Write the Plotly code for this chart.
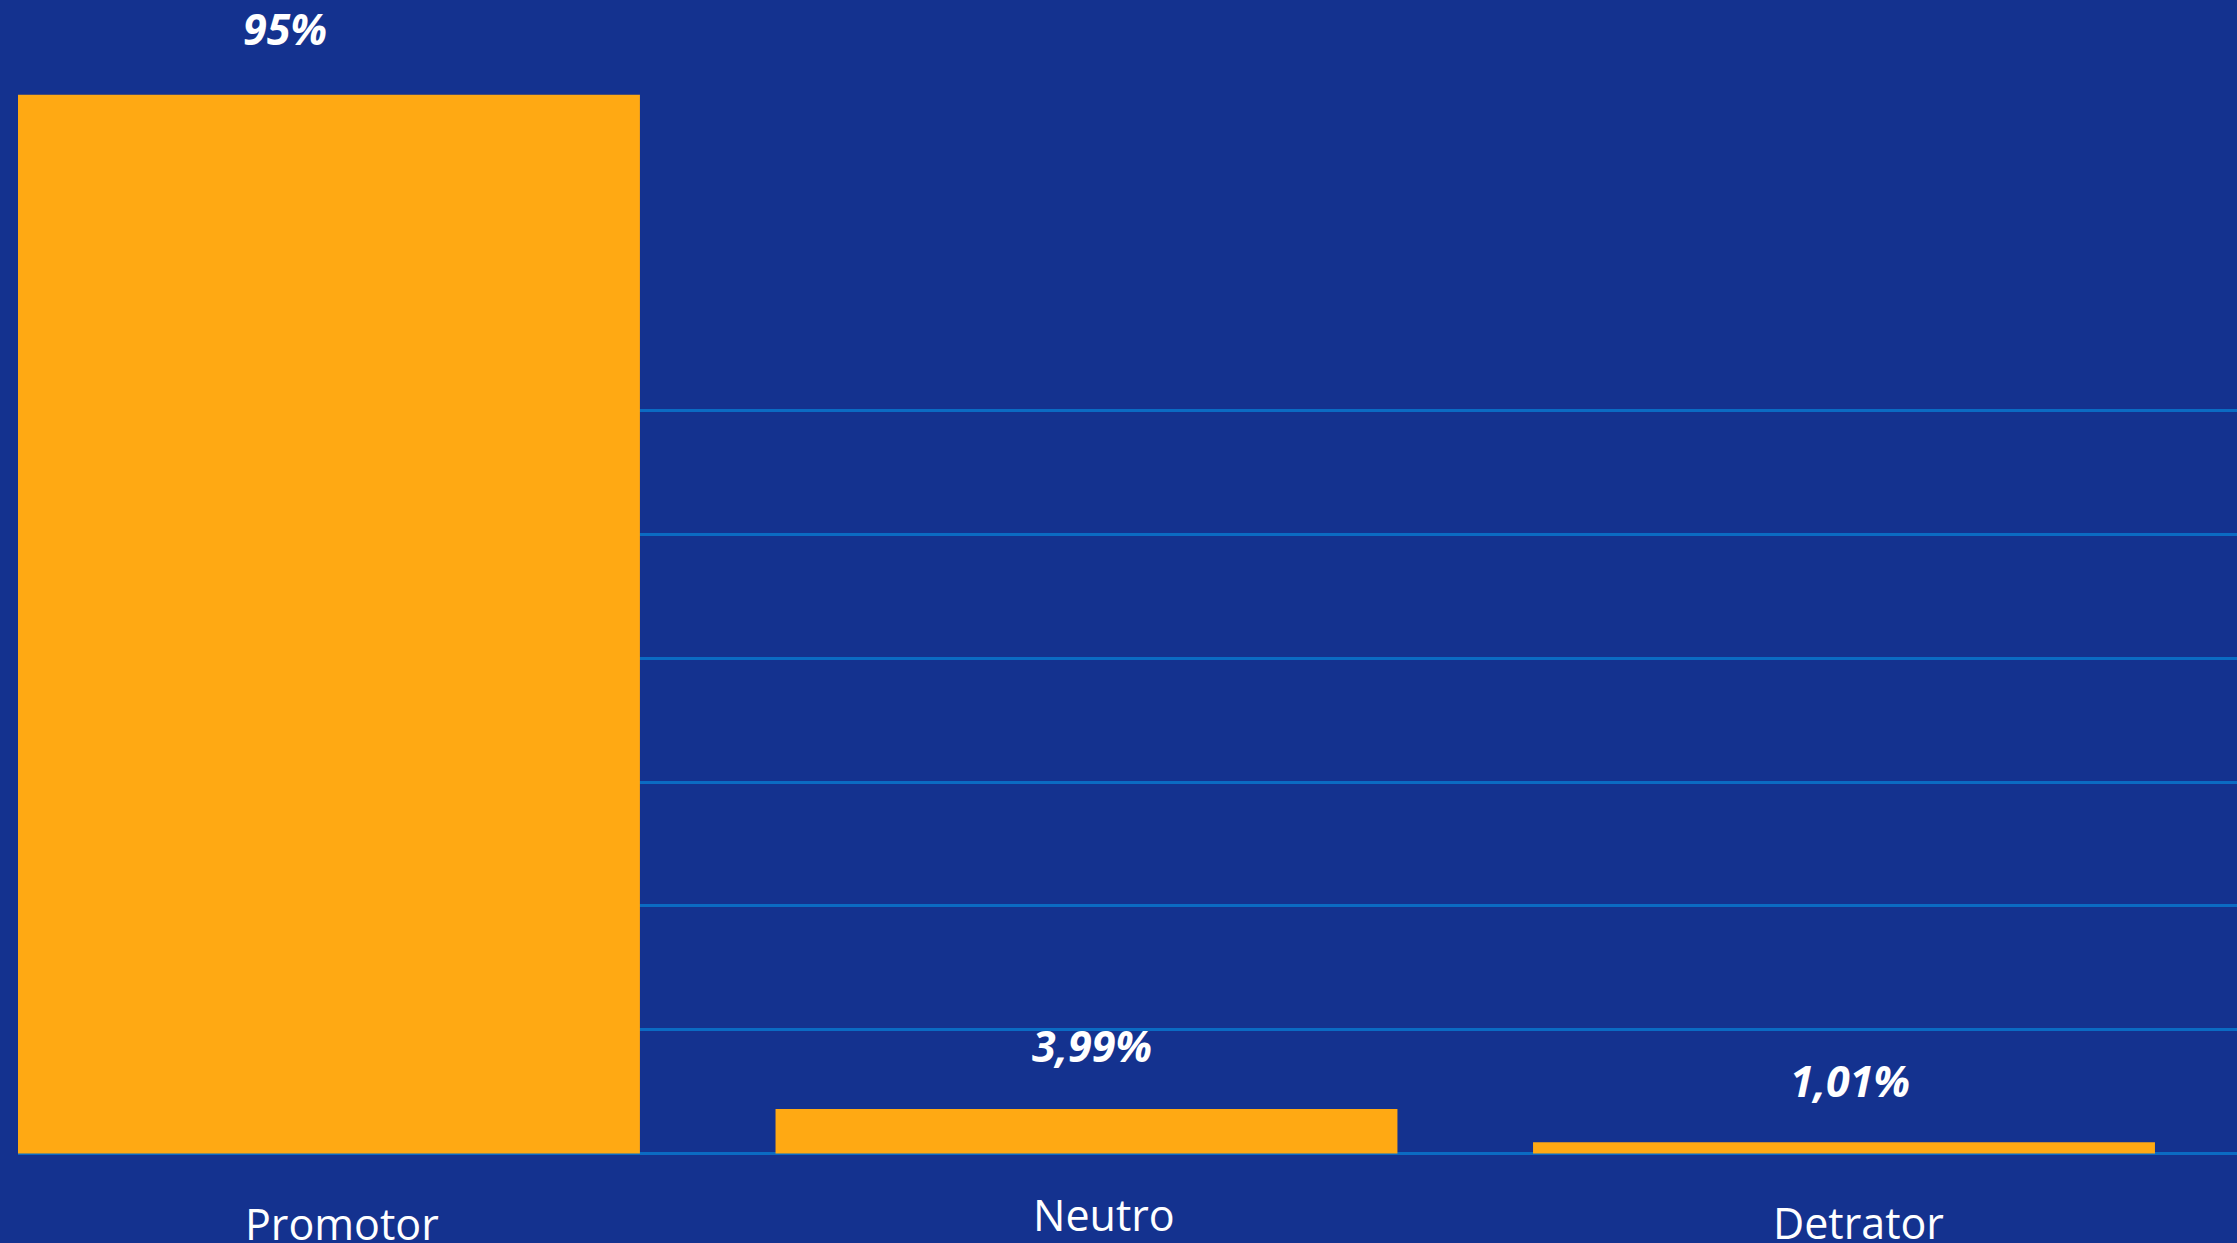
import plotly.graph_objects as go

# ---- data ----
categories = ["Promotor", "Neutro", "Detrator"]
values = [95, 3.99, 1.01]
value_labels = ["95%", "3,99%", "1,01%"]
grid_values = [0, 100/9, 200/9, 300/9, 400/9, 500/9, 600/9]

# ---- style ----
BG = "#14328F"
BAR = "#FFA913"
GRID = "#0B6BC3"
W, H = 2237, 1243

val_xshift = [-44, 6, 6]
val_yshift = [35, 32, 30]
cat_xshift = [13, 18, 14]
cat_yshift = [-70, -61, -69]

fig = go.Figure()
fig.add_trace(go.Bar(
    x=list(range(len(categories))),
    y=values,
    width=0.821,
    marker=dict(color=BAR, line=dict(width=0)),
    hoverinfo="skip",
))

for i, (v, lab) in enumerate(zip(values, value_labels)):
    fig.add_annotation(
        x=i, y=v, xref="x", yref="y", text=lab, showarrow=False,
        yanchor="bottom", xanchor="center",
        xshift=val_xshift[i], yshift=val_yshift[i],
        font=dict(family="Open Sans", size=43, color="white", weight="bold", style="italic"),
    )

for i, c in enumerate(categories):
    fig.add_annotation(
        x=i, y=0, xref="x", yref="y", text=c, showarrow=False,
        yanchor="middle", xanchor="center",
        xshift=cat_xshift[i], yshift=cat_yshift[i],
        font=dict(family="Open Sans", size=43, color="white"),
    )

fig.update_layout(
    width=W, height=H,
    paper_bgcolor=BG, plot_bgcolor=BG,
    margin=dict(l=18, r=0, t=0, b=88, pad=0),
    showlegend=False,
    xaxis=dict(range=[-0.4105, 2.5188], showgrid=False, zeroline=False,
               showticklabels=False, showline=False, fixedrange=True),
    yaxis=dict(range=[-0.13, 103.5], tickmode="array", tickvals=grid_values,
               showgrid=True, gridcolor=GRID, gridwidth=3,
               zeroline=False, showticklabels=False, showline=False),
)

fig.write_html(
    "out.html",
    config={"displayModeBar": False},
    post_script="document.body.style.margin='0';document.body.style.overflow='hidden';document.body.style.background='#14328F';",
)
